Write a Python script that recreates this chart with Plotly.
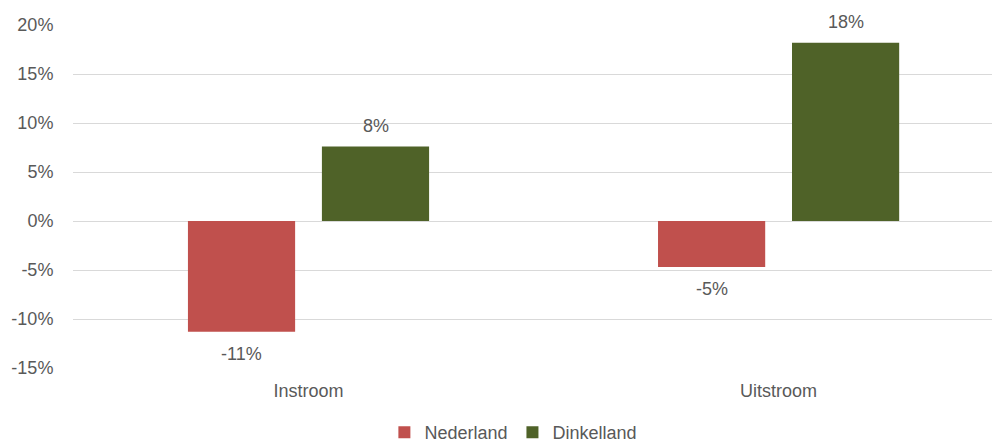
import plotly.graph_objects as go

categories = ["Instroom", "Uitstroom"]
nederland = [-0.113, -0.047]
dinkelland = [0.076, 0.182]
y_ticks = [-0.15, -0.10, -0.05, 0.0, 0.05, 0.10, 0.15, 0.20]
y_tick_labels = ["-15%", "-10%", "-5%", "0%", "5%", "10%", "15%", "20%"]

font_family = "Liberation Sans, Arial, sans-serif"
text_color = "#595959"
fsize = 18

fig = go.Figure()
series = [("Nederland", nederland, "#C0504D", -67), ("Dinkelland", dinkelland, "#4F6228", 67)]
for name, vals, color, xshift in series:
    fig.add_trace(go.Bar(
        name=name, x=categories, y=vals,
        marker=dict(color=color, line=dict(width=0)),
    ))
    for cat, v in zip(categories, vals):
        fig.add_annotation(
            x=cat, y=v, xref="x", yref="y", text=f"{v:.0%}",
            showarrow=False, xshift=xshift, yshift=21 if v >= 0 else -22,
            font=dict(size=fsize, color=text_color, family=font_family),
        )

fig.update_layout(
    width=1000, height=443,
    margin=dict(l=65, r=0, t=17, b=83),
    paper_bgcolor="white", plot_bgcolor="white",
    font=dict(family=font_family, size=fsize, color=text_color),
    barmode="group", bargap=0.43, bargroupgap=0.2,
    showlegend=True,
    legend=dict(orientation="h", x=0.471, xanchor="center", xref="paper",
                y=-0.012, yref="container", yanchor="bottom",
                font=dict(size=fsize, color=text_color),
                itemwidth=30, traceorder="normal"),
)
fig.update_xaxes(
    type="category", range=[-0.501, 1.488], automargin=False,
    showgrid=False, showline=False, zeroline=False,
    ticks="outside", ticklen=6, tickcolor="rgba(0,0,0,0)",
    tickfont=dict(size=fsize, color=text_color),
)
fig.update_yaxes(
    range=[-0.15, 0.20], tickvals=y_ticks, ticktext=y_tick_labels,
    automargin=False,
    showgrid=True, gridcolor="#D9D9D9", gridwidth=1.3,
    zeroline=True, zerolinecolor="#D9D9D9", zerolinewidth=1.3,
    showline=False,
    ticks="outside", ticklen=15, tickcolor="rgba(0,0,0,0)",
    tickfont=dict(size=fsize, color=text_color),
)

fig.write_html("out.html")
